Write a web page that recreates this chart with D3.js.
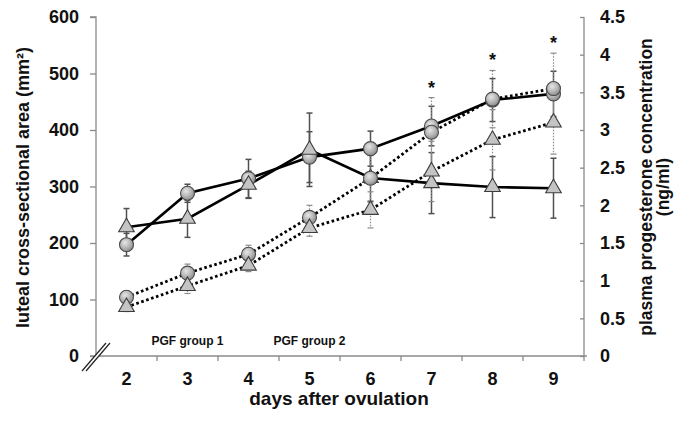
<!DOCTYPE html>
<html>
<head>
<meta charset="utf-8">
<script src="https://cdn.jsdelivr.net/npm/d3@7"></script>
<style>
  html, body { margin: 0; padding: 0; background: #fff; }
  svg { display: block; font-family: "Liberation Sans", Arial, sans-serif; }
</style>
</head>
<body>
<svg id="chart" width="685" height="423"></svg>
<script>
// ---- data ----
const days = [2, 3, 4, 5, 6, 7, 8, 9];
const areaCircle    = [197, 288, 314, 352, 367, 407, 453, 464];
const areaCircleErr = [20, 16, 34, 45, 31, 35, 38, 40];
const areaTri       = [228, 243, 303, 365, 315, 306, 299, 297];
const areaTriErr    = [33, 33, 24, 65, 42, 54, 54, 53];
const p4Circle      = [0.78, 1.10, 1.35, 1.84, 2.36, 2.97, 3.41, 3.55];
const p4CircleErr   = [0.06, 0.12, 0.12, 0.16, 0.30, 0.46, 0.38, 0.47];
const p4Tri         = [0.65, 0.93, 1.20, 1.70, 1.94, 2.45, 2.87, 3.10];
const p4TriErr      = [0.06, 0.10, 0.08, 0.11, 0.24, 0.40, 0.40, 0.42];
const starDays      = [7, 8, 9];
const leftTicks     = [0, 100, 200, 300, 400, 500, 600];
const rightTicks    = [0, 0.5, 1, 1.5, 2, 2.5, 3, 3.5, 4, 4.5];
const pgfLabels     = [{day: 3, text: "PGF group 1"}, {day: 5, text: "PGF group 2"}];
const xTitle = "days after ovulation";
const yLeftTitle = "luteal cross-sectional area (mm²)";
const yRightTitle = ["plasma progesterone concentration", "(ng/ml)"];

// ---- layout ----
const L = 96, R = 584, T = 17, B = 356;
const svg = d3.select("#chart");
const axisColor = "#8a8a8a";
const FONT = "'Liberation Sans', Arial, sans-serif";

const x = d3.scaleBand().domain(days).range([L, R]).paddingInner(0).paddingOuter(0);
const xc = d => x(d) + x.bandwidth() / 2;
const yL = d3.scaleLinear().domain([0, 600]).range([B, T]);
const yR = d3.scaleLinear().domain([0, 4.5]).range([B, T]);

const defs = svg.append("defs");
const grad = defs.append("radialGradient").attr("id", "ballGrad")
  .attr("cx", "40%").attr("cy", "35%").attr("r", "65%");
grad.append("stop").attr("offset", "0%").attr("stop-color", "#e6e6e6");
grad.append("stop").attr("offset", "60%").attr("stop-color", "#b4b4b4");
grad.append("stop").attr("offset", "100%").attr("stop-color", "#8c8c8c");

// ---- axes ----
const gL = svg.append("g").attr("transform", `translate(${L},0)`)
  .call(d3.axisLeft(yL).tickValues(leftTicks).tickSize(6).tickPadding(11).tickFormat(d3.format("d")));
const gR = svg.append("g").attr("transform", `translate(${R},0)`)
  .call(d3.axisRight(yR).tickValues(rightTicks).tickSizeInner(-4).tickSizeOuter(0).tickPadding(16)
        .tickFormat(d => d));
const gB = svg.append("g").attr("transform", `translate(0,${B})`)
  .call(d3.axisBottom(x).tickSize(0).tickPadding(16));

[gL, gR, gB].forEach(g => {
  g.select(".domain").attr("stroke", axisColor).attr("stroke-width", 1.3);
  g.selectAll(".tick line").attr("stroke", axisColor).attr("stroke-width", 1.3);
  g.selectAll("text").attr("fill", "#111").attr("font-size", 18).attr("font-weight", "bold")
    .attr("font-family", FONT);
});
gL.select(".domain").attr("d", `M-6,${T}H0V${B}`);
gR.select(".domain").attr("d", `M0,${T}V${B}`);
gR.selectAll(".tick text").attr("x", 16).attr("text-anchor", "start");
gB.select(".domain").attr("d", `M${L - 6},0H${R + 3}`);
// band boundary ticks on the x axis
const boundaries = days.slice(1).map(d => x(d)).concat([R]);
gB.selectAll(".bt").data(boundaries).enter().append("line")
  .attr("x1", d => d).attr("x2", d => d).attr("y1", 0).attr("y2", 5)
  .attr("stroke", axisColor).attr("stroke-width", 1.3);

// axis break marks
svg.append("polygon").attr("points", "85,368 89,368 110,343 106,343").attr("fill", "#fff");
const brk = svg.append("g").attr("stroke", "#222").attr("stroke-width", 1.2);
[0, 4].forEach(o => {
  brk.append("line").attr("x1", 82 + o).attr("y1", 371).attr("x2", 106 + o).attr("y2", 343);
});

// ---- titles ----
svg.append("text").attr("transform", `translate(29,${(T + B) / 2 + 1}) rotate(-90)`)
  .attr("text-anchor", "middle").attr("font-size", 18).attr("font-weight", "bold").attr("fill", "#111")
  .attr("font-family", FONT).text(yLeftTitle);
yRightTitle.forEach((t, i) => {
  svg.append("text").attr("transform", `translate(${652 + i * 17},${187}) rotate(-90)`)
    .attr("text-anchor", "middle").attr("font-size", 17.5).attr("font-weight", "bold").attr("fill", "#111")
    .attr("font-family", FONT).text(t);
});
svg.append("text").attr("x", 339).attr("y", 405).attr("text-anchor", "middle")
  .attr("font-size", 19).attr("font-weight", "bold").attr("fill", "#111")
  .attr("font-family", FONT).text(xTitle);

svg.selectAll(".pgf").data(pgfLabels).enter().append("text")
  .attr("x", d => xc(d.day)).attr("y", 345).attr("text-anchor", "middle")
  .attr("font-size", 12).attr("font-weight", "bold").attr("fill", "#111")
  .attr("font-family", FONT).text(d => d.text);

// ---- series ----
const series = [
  {vals: areaCircle, err: areaCircleErr, y: yL, shape: "circle", dotted: false},
  {vals: areaTri, err: areaTriErr, y: yL, shape: "tri", dotted: false},
  {vals: p4Circle, err: p4CircleErr, y: yR, shape: "circle", dotted: true},
  {vals: p4Tri, err: p4TriErr, y: yR, shape: "tri", dotted: true}
];

// error bars
series.forEach(s => {
  const g = svg.append("g")
    .attr("stroke", s.dotted ? "#8c8c8c" : "#505050")
    .attr("stroke-width", s.dotted ? 1.2 : 1.5);
  days.forEach((d, i) => {
    const cx = xc(d), hi = s.y(s.vals[i] + s.err[i]), lo = s.y(s.vals[i] - s.err[i]);
    g.append("line").attr("x1", cx).attr("x2", cx).attr("y1", hi).attr("y2", lo)
      .attr("stroke-dasharray", s.dotted ? "1.5,1.5" : null);
    g.append("line").attr("x1", cx - 3).attr("x2", cx + 3).attr("y1", hi).attr("y2", hi);
    g.append("line").attr("x1", cx - 3).attr("x2", cx + 3).attr("y1", lo).attr("y2", lo);
  });
});

// lines
series.forEach(s => {
  const line = d3.line().x((v, i) => xc(days[i])).y(v => s.y(v));
  svg.append("path").attr("d", line(s.vals)).attr("fill", "none").attr("stroke", "#000")
    .attr("stroke-width", s.dotted ? 2.8 : 2.6)
    .attr("stroke-dasharray", s.dotted ? "2.6,2.6" : null);
});

// markers
const triPath = d3.symbol().type(d3.symbolTriangle).size(105);
series.forEach(s => {
  days.forEach((d, i) => {
    const cx = xc(d), cy = s.y(s.vals[i]);
    if (s.shape === "circle") {
      svg.append("circle").attr("cx", cx).attr("cy", cy).attr("r", 7)
        .attr("fill", "url(#ballGrad)").attr("stroke", "#4a4a4a").attr("stroke-width", 1.1);
    } else {
      svg.append("path").attr("d", triPath()).attr("transform", `translate(${cx},${cy})`)
        .attr("fill", "#c4c4c4").attr("stroke", "#3c3c3c").attr("stroke-width", 1.1);
    }
  });
});

// significance stars
const p4Top = days.map((d, i) => Math.max(p4Circle[i] + p4CircleErr[i], p4Tri[i] + p4TriErr[i]));
svg.selectAll(".star").data(starDays).enter().append("text")
  .attr("x", d => xc(d)).attr("y", d => yR(p4Top[days.indexOf(d)]) - 4)
  .attr("text-anchor", "middle").attr("font-size", 18).attr("font-weight", "bold").attr("fill", "#111")
  .attr("font-family", FONT).text("*");
</script>
</body>
</html>
